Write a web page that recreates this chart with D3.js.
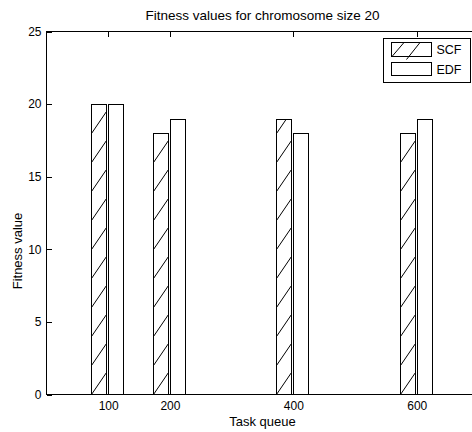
<!DOCTYPE html>
<html>
<head>
<meta charset="utf-8">
<script src="https://cdn.jsdelivr.net/npm/d3@7"></script>
<style>
  html, body { margin: 0; padding: 0; background: #fff; }
  svg { display: block; font-family: "Liberation Sans", Arial, Helvetica, sans-serif; }
</style>
</head>
<body>
<svg id="chart" width="472" height="432"></svg>
<script>
// ---- data ----
const categories = [100, 200, 400, 600];
const scfValues = [20, 18, 19, 18];
const edfValues = [20, 19, 18, 19];
const seriesNames = ["SCF", "EDF"];
const yTicks = [0, 5, 10, 15, 20, 25];
const xDomain = [0, 700];
const yDomain = [0, 25];
const titleText = "Fitness values for chromosome size 20";
const xLabelText = "Task queue";
const yLabelText = "Fitness value";

// ---- layout ----
const W = 472, H = 432;
const plot = { left: 46.5, right: 478.5, top: 31.5, bottom: 394.5 };
const svg = d3.select("#chart");

const x = d3.scaleLinear().domain(xDomain).range([plot.left, plot.right]);
const y = d3.scaleLinear().domain(yDomain).range([plot.bottom, plot.top]);

const barW = 23.5;          // data units
const offsets = [-27.5, 0]; // data units: left edge of each series bar relative to category
const series = [scfValues, edfValues];

// bars
const defs = svg.append("defs");
const gBars = svg.append("g");
const hatchPeriod = 29, hatchRise = 22;

series.forEach((vals, si) => {
  vals.forEach((v, i) => {
    const x0 = x(categories[i] + offsets[si]);
    const x1 = x(categories[i] + offsets[si] + barW);
    const yt = y(v), yb = y(0);
    const bx = Math.round(x0) + 0.5, bw = Math.round(x1 - x0);
    const by = Math.round(yt) + 0.5, bh = yb - by;
    gBars.append("rect")
      .attr("x", bx).attr("y", by).attr("width", bw).attr("height", bh)
      .attr("fill", "#fff").attr("stroke", "#000").attr("stroke-width", 1)
      .attr("shape-rendering", "crispEdges");
    if (si === 0) {
      const id = "clip-" + si + "-" + i;
      defs.append("clipPath").attr("id", id)
        .append("rect").attr("x", bx).attr("y", by).attr("width", bw).attr("height", bh);
      const hg = gBars.append("g").attr("clip-path", "url(#" + id + ")");
      for (let k = 0; yb - k * hatchPeriod > by - hatchRise; k++) {
        const yl = yb - k * hatchPeriod;
        hg.append("line")
          .attr("x1", bx).attr("y1", yl)
          .attr("x2", bx + bw).attr("y2", yl - hatchRise)
          .attr("stroke", "#000").attr("stroke-width", 1);
      }
    }
  });
});

// axes
const fontSize = 12;
const xAxis = d3.axisBottom(x).tickValues(categories).tickSizeInner(-5).tickSizeOuter(0).tickPadding(7);
const gx = svg.append("g").attr("transform", `translate(0,${plot.bottom})`).call(xAxis);
const xTop = d3.axisTop(x).tickValues(categories).tickSizeInner(-5).tickSizeOuter(0).tickFormat("");
const gxt = svg.append("g").attr("transform", `translate(0,${plot.top})`).call(xTop);
const yAxis = d3.axisLeft(y).tickValues(yTicks).tickSizeInner(-5).tickSizeOuter(0).tickPadding(5);
const gy = svg.append("g").attr("transform", `translate(${plot.left},0)`).call(yAxis);
const yRight = d3.axisRight(y).tickValues(yTicks).tickSizeInner(-5).tickSizeOuter(0).tickFormat("");
const gyr = svg.append("g").attr("transform", `translate(${plot.right},0)`).call(yRight);

[gx, gxt, gy, gyr].forEach(g => {
  g.select(".domain").remove();
  g.selectAll(".tick line").attr("stroke", "#000").attr("shape-rendering", "crispEdges");
  g.selectAll(".tick text").attr("fill", "#000").attr("font-size", fontSize)
    .attr("font-family", "Liberation Sans, Arial, sans-serif");
});

// frame
svg.append("rect")
  .attr("x", plot.left).attr("y", plot.top)
  .attr("width", plot.right - plot.left).attr("height", plot.bottom - plot.top)
  .attr("fill", "none").attr("stroke", "#000").attr("stroke-width", 1)
  .attr("shape-rendering", "crispEdges");

// title & labels
svg.append("text").attr("x", (plot.left + plot.right) / 2).attr("y", 20)
  .attr("text-anchor", "middle").attr("font-size", 13.5).attr("fill", "#000").text(titleText);
svg.append("text").attr("x", (plot.left + plot.right) / 2).attr("y", 426)
  .attr("text-anchor", "middle").attr("font-size", 13).attr("fill", "#000").text(xLabelText);
svg.append("text").attr("transform", "translate(22,251) rotate(-90)")
  .attr("text-anchor", "middle").attr("font-size", 13).attr("fill", "#000").text(yLabelText);

// legend
const lg = svg.append("g");
const L = { x: 383.5, y: 38.5, w: 87, h: 44 };
lg.append("rect").attr("x", L.x).attr("y", L.y).attr("width", L.w).attr("height", L.h)
  .attr("fill", "#fff").attr("stroke", "#000").attr("stroke-width", 1).attr("shape-rendering", "crispEdges");
const sw = { x: L.x + 8, w: 40, h: 14, rows: [L.y + 4, L.y + 24] };
seriesNames.forEach((name, i) => {
  const sy = sw.rows[i];
  lg.append("rect").attr("x", sw.x).attr("y", sy).attr("width", sw.w).attr("height", sw.h - (i ? 1 : 0))
    .attr("fill", "#fff").attr("stroke", "#000").attr("stroke-width", 1).attr("shape-rendering", "crispEdges");
  if (i === 0) {
    lg.append("line").attr("x1", sw.x + 0.5).attr("y1", sy + sw.h)
      .attr("x2", sw.x + 12.5).attr("y2", sy).attr("stroke", "#000");
    lg.append("line").attr("x1", sw.x + 15).attr("y1", sy + sw.h + 3)
      .attr("x2", sw.x + 28.5).attr("y2", sy).attr("stroke", "#000");
  }
  lg.append("text").attr("x", sw.x + sw.w + 5).attr("y", sy + sw.h / 2)
    .attr("dy", "0.35em").attr("font-size", 12.5).attr("fill", "#000").text(name);
});
</script>
</body>
</html>
